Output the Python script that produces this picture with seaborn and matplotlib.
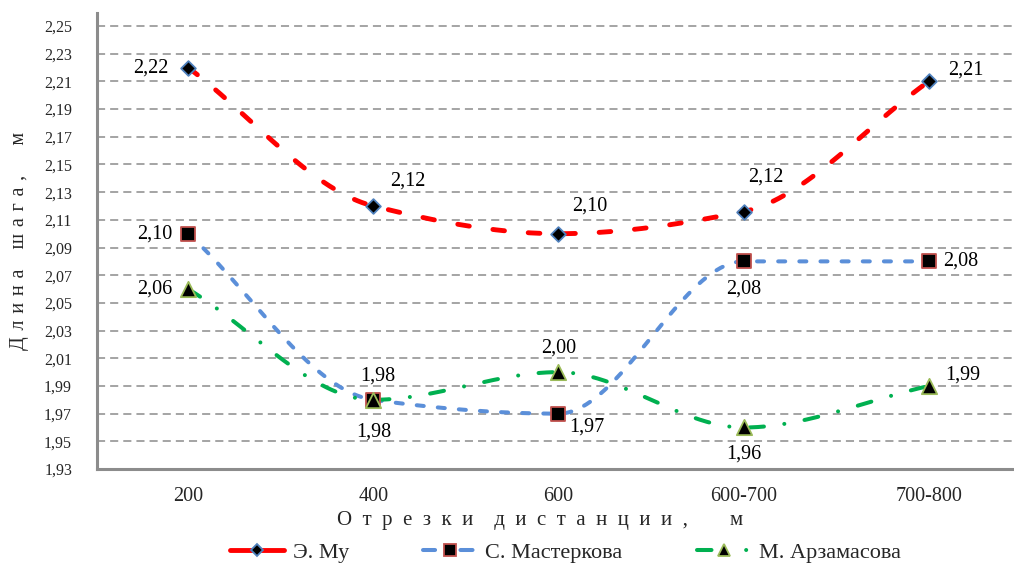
import numpy as np
import pandas as pd
import matplotlib
matplotlib.use("Agg")
import matplotlib.pyplot as plt
from matplotlib.lines import Line2D
import seaborn as sns

# ---- data ----
segments = ["200", "400", "600", "600-700", "700-800"]
mu = [2.22, 2.12, 2.10, 2.116, 2.21]
masterkova = [2.10, 1.98, 1.97, 2.08, 2.08]
arzamasova = [2.06, 1.98, 2.00, 1.96, 1.99]
series_names = ["Э. Му", "С. Мастеркова", "М. Арзамасова"]
y_ticks = [1.93, 1.95, 1.97, 1.99, 2.01, 2.03, 2.05, 2.07, 2.09, 2.11,
           2.13, 2.15, 2.17, 2.19, 2.21, 2.23, 2.25]
x_title_words = ["Отрезки", "дистанции,", "м"]
y_title_words = ["Длина", "шага,", "м"]

sns.set_theme(style="white")
plt.rcParams["font.family"] = ["Liberation Serif", "DejaVu Serif"]

EN = "\u2002"
THIRD = "\u2004"


def spaced(words, letter_gap, word_gaps):
    """Letter-spaced title with its own gap after each word."""
    out = ""
    for i, w in enumerate(words):
        out += letter_gap.join(w)
        if i < len(word_gaps):
            out += word_gaps[i]
    return out


def smooth_path(xs, ys, n=80):
    """Monotone cubic (Fritsch-Carlson) path through the points, for drawing."""
    xs = np.asarray(xs, float)
    ys = np.asarray(ys, float)
    h = np.diff(xs)
    delta = np.diff(ys) / h
    m = np.zeros_like(ys)
    m[0], m[-1] = delta[0], delta[-1]
    for i in range(1, len(ys) - 1):
        if delta[i - 1] * delta[i] <= 0:
            m[i] = 0.0
        else:
            w1 = 2 * h[i] + h[i - 1]
            w2 = h[i] + 2 * h[i - 1]
            m[i] = (w1 + w2) / (w1 / delta[i - 1] + w2 / delta[i])
    px, py = [], []
    for i in range(len(xs) - 1):
        t = np.linspace(0, 1, n, endpoint=(i == len(xs) - 2))
        h00 = 2 * t**3 - 3 * t**2 + 1
        h10 = t**3 - 2 * t**2 + t
        h01 = -2 * t**3 + 3 * t**2
        h11 = t**3 - t**2
        px.append(xs[i] + t * h[i])
        py.append(h00 * ys[i] + h10 * h[i] * m[i] + h01 * ys[i + 1] + h11 * h[i] * m[i + 1])
    return np.concatenate(px), np.concatenate(py)


fig = plt.figure(figsize=(10.14, 5.67), dpi=100)
ax = fig.add_axes([0.0957, 0.1728, 0.9043, 0.8042])

pos = np.arange(len(segments))

styles = [
    dict(values=mu, color="#FF0000", lw=3.5, dash=(0, (2.4, 4.9)),
         legend_dash="-", marker="D", ms=7.5, mfc="black", mec="#4F81BD"),
    dict(values=masterkova, color="#5B8FD9", lw=2.9, dash=(0, (1.75, 3.5)),
         legend_dash=(0, (3.0, 6.3)), marker="s", ms=10.5, mfc="black", mec="#C0504D"),
    dict(values=arzamasova, color="#00B050", lw=2.9, dash=(0, (3.5, 5.1, 0.01, 5.1)),
         legend_dash=(0, (3.6, 8.6, 0.01, 20)), marker="^", ms=11.0,
         mfc="black", mec="#9BBB59"),
]

handles = []
for name, st in zip(series_names, styles):
    sx, sy = smooth_path(pos, st["values"])
    curve = pd.DataFrame({"x": sx, "y": sy})
    sns.lineplot(data=curve, x="x", y="y", ax=ax, sort=False, estimator=None,
                 color=st["color"], linewidth=st["lw"], linestyle=st["dash"],
                 dash_capstyle="round", zorder=3)
    pts = pd.DataFrame({"x": pos, "y": st["values"]})
    sns.scatterplot(data=pts, x="x", y="y", ax=ax, marker=st["marker"],
                    s=st["ms"] ** 2, color=st["mfc"], edgecolor=st["mec"],
                    linewidth=1.3, zorder=4)
    handles.append(Line2D([0], [0], color=st["color"], lw=st["lw"],
                          linestyle=st["legend_dash"], dash_capstyle="round",
                          solid_capstyle="round",
                          marker=st["marker"], markersize=st["ms"] * 0.85,
                          markerfacecolor=st["mfc"], markeredgecolor=st["mec"],
                          markeredgewidth=1.3))

# value labels (offsets in points)
label_offsets = [
    [(-14, 0, "right", "center"), (12, 18, "left", "center"), (10, 20, "left", "center"),
     (16, 25, "center", "center"), (14, 8, "left", "center")],
    [(-11, 0, "right", "center"), (0, -23, "center", "center"), (8, -10, "left", "center"),
     (0, -20, "center", "center"), (10, 0, "left", "center")],
    [(-11, 0, "right", "center"), (3, 17, "center", "center"), (0, 17, "center", "center"),
     (0, -19, "center", "center"), (12, 8, "left", "center")],
]
for st, offs in zip(styles, label_offsets):
    for x, v, (dx, dy, ha, va) in zip(pos, st["values"], offs):
        ax.annotate(f"{v:.2f}".replace(".", ","), (x, v), xytext=(dx, dy),
                    textcoords="offset points", ha=ha, va=va, fontsize=14.5,
                    color="black", zorder=5)

ax.set_xlim(-0.492, 4.46)
ax.set_ylim(1.93, 2.2594)
ax.set_xticks(pos)
ax.set_xticklabels(segments)
ax.set_yticks(y_ticks)
ax.set_yticklabels([f"{t:.2f}".replace(".", ",") for t in y_ticks])
ax.tick_params(axis="y", length=0, pad=18, labelsize=11.5)
ax.tick_params(axis="x", length=0, pad=13, labelsize=14.5)

ax.yaxis.grid(True, color="#8C8C8C", linewidth=1.1, linestyle=(0, (5.3, 3.3)), zorder=0)
ax.xaxis.grid(False)
for side in ("top", "right"):
    ax.spines[side].set_visible(False)
for side in ("left", "bottom"):
    ax.spines[side].set_color("#8C8C8C")
    ax.spines[side].set_linewidth(2.2)

ax.set_xlabel(spaced(x_title_words, EN, [" " + EN + " ", " " + EN * 3 + " "]),
              fontsize=15)
ax.xaxis.set_label_coords(0.483, -0.092)
ax.set_ylabel(spaced(y_title_words, THIRD, [" " + EN + " ", " " + EN * 2 + " "]),
              fontsize=14.5, labelpad=11)

fig.legend(handles, series_names, loc="center", bbox_to_anchor=(0.558, 0.026),
           ncol=3, frameon=False, fontsize=16, handlelength=2.4,
           columnspacing=3.35, handletextpad=0.4)

fig.savefig("out.png", dpi=100)
